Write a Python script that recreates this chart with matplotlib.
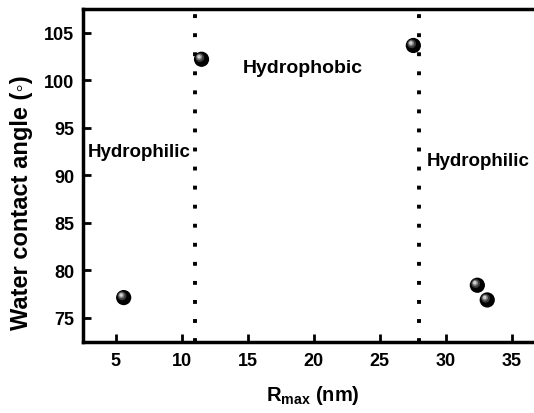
import matplotlib.pyplot as plt
from matplotlib.transforms import ScaledTranslation

plt.rcParams['font.family'] = ['Liberation Sans', 'DejaVu Sans']
plt.rcParams['font.weight'] = 'bold'
plt.rcParams['mathtext.fontset'] = 'custom'
plt.rcParams['mathtext.rm'] = 'Liberation Sans:bold'
plt.rcParams['mathtext.bf'] = 'Liberation Sans:bold'
plt.rcParams['mathtext.it'] = 'Liberation Sans:bold'

# roughness vs contact angle
r_max = [5.6, 11.5, 27.55, 32.4, 33.15]
angle = [77.1, 102.2, 103.65, 78.4, 76.85]
boundaries = [11, 28]

fig = plt.figure(figsize=(5.34, 4.14), dpi=100)
ax = fig.add_axes([0.155, 0.171, 0.86, 0.805])

# spheres: dark ball with a soft grey highlight up and to the left
ax.scatter(r_max, angle, s=120, c='black', edgecolors='none', zorder=3)
for size, col, off in [(40, '#3a3a3a', 1.2), (18, '#808080', 1.6), (6, '#d0d0d0', 1.8)]:
    shift = ax.transData + ScaledTranslation(-off / 72, off / 72, fig.dpi_scale_trans)
    ax.scatter(r_max, angle, s=size, c=col, edgecolors='none', zorder=4,
               transform=shift)

for b in boundaries:
    ax.axvline(b, color='black', linestyle=(0, (1, 3.9)), linewidth=2.8, zorder=2)

ax.text(2.85, 92.5, 'Hydrophilic', fontsize=13.5, fontweight='bold', va='center')
ax.text(19.2, 101.3, 'Hydrophobic', fontsize=14, fontweight='bold', va='center',
        ha='center')
ax.text(28.6, 91.5, 'Hydrophilic', fontsize=13.5, fontweight='bold', va='center')

ax.set_xlim(2.5, 37.3)
ax.set_ylim(72.4, 107.5)
ax.set_xticks([5, 10, 15, 20, 25, 30, 35])
ax.set_yticks([75, 80, 85, 90, 95, 100, 105])
ax.tick_params(direction='in', length=6, width=2, labelsize=13)
ax.tick_params(axis='x', pad=7)
ax.tick_params(axis='y', pad=6)
for s in ax.spines.values():
    s.set_linewidth(2.5)

ax.set_xlabel(r'R$_{\mathrm{max}}$ (nm)', fontsize=14.5, fontweight='bold', labelpad=10)
ax.set_ylabel('Water contact angle (\u25e6)', fontsize=17, fontweight='bold')
ax.yaxis.set_label_coords(-0.108, 0.423)

fig.savefig('out.png', dpi=100)
